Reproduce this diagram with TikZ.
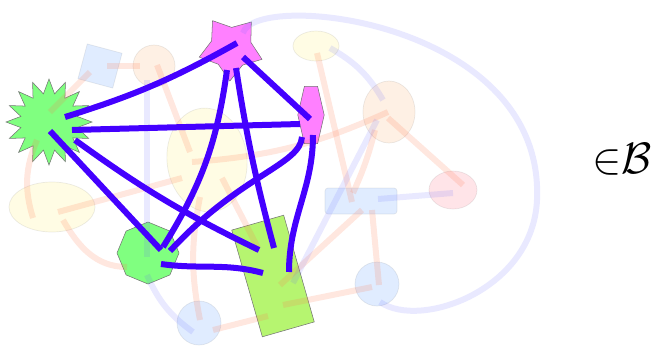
\documentclass[tikz,border=0pt]{standalone}
\usepackage{tikz}
\usetikzlibrary{positioning,shapes.geometric}
\definecolor{edgeblue}{RGB}{68,0,255}
\definecolor{leafgreen}{RGB}{128,255,128}
\definecolor{limegreen}{RGB}{182,245,112}
\definecolor{pinkish}{RGB}{255,128,255}
\definecolor{fadeorange}{RGB}{255,120,80}
\definecolor{fadeblue}{RGB}{100,100,255}
\definecolor{ghostblue}{RGB}{100,160,255}
\definecolor{ghostorange}{RGB}{250,180,120}
\definecolor{ghostyellow}{RGB}{255,240,120}
\definecolor{ghostpink}{RGB}{255,120,140}
\tikzset{
  shapebox/.style={draw=black!55, line width=0.3pt, inner sep=0pt, outer sep=0pt},
  ghost/.style={draw=black, draw opacity=0.08, line width=0.4pt, fill opacity=0.2, inner sep=0pt, outer sep=0pt},
  mainedge/.style={draw=edgeblue, line width=1.2mm},
  redfade/.style={draw=fadeorange, draw opacity=0.18, line width=1.2mm},
  bluefade/.style={draw=fadeblue, draw opacity=0.14, line width=1.2mm}
}

\begin{document}
\begin{tikzpicture}[x=0.2mm, y=0.2mm]
  \useasboundingbox (0,0) rectangle (654,-345);
  \node[shapebox, star, star points=16, star point ratio=1.5, minimum size=17.2mm, fill=leafgreen] (burst) at (49,-122) {};
  \node[shapebox, star, star points=5, star point ratio=1.6, minimum size=13.2mm, shape border rotate=34, fill=pinkish] (star) at (231,-48) {};
  \node[shapebox, regular polygon, regular polygon sides=6, minimum size=13.2mm, xscale=0.4, fill=pinkish] (hexa) at (311,-115) {};
  \node[shapebox, regular polygon, regular polygon sides=8, minimum size=12.4mm, shape border rotate=22.5, fill=leafgreen] (octa) at (148,-253) {};
  \node[shapebox, rectangle, minimum width=10.8mm, minimum height=22.2mm, rotate=16, fill=limegreen] (slab) at (273,-276) {};

  \node[ghost, rectangle, minimum size=7.2mm, rotate=-15, fill=ghostblue] (gsq) at (100,-66) {};
  \node[ghost, circle, minimum size=8.4mm, fill=ghostorange] (goc) at (154,-66) {};
  \node[ghost, ellipse, minimum width=9.2mm, minimum height=6mm, fill=ghostyellow] (gye) at (316,-46) {};
  \node[ghost, ellipse, minimum width=10.4mm, minimum height=12.4mm, fill=ghostorange] (goe) at (389,-112) {};
  \node[ghost, ellipse, minimum width=9.6mm, minimum height=7.6mm, fill=ghostpink] (gpk) at (453,-190) {};
  \node[ghost, rectangle, rounded corners=0.6mm, minimum width=14.4mm, minimum height=5.2mm, fill=ghostblue] (gbr) at (361,-201) {};
  \node[ghost, circle, minimum size=8.8mm, fill=ghostblue] (gbc1) at (377,-284) {};
  \node[ghost, circle, minimum size=8.8mm, fill=ghostblue] (gbc2) at (199,-323) {};
  \node[ghost, ellipse, minimum width=16mm, minimum height=20.8mm, rotate=6, fill=ghostyellow] (gyb) at (207,-160) {};
  \node[ghost, ellipse, minimum width=17.2mm, minimum height=10mm, fill=ghostyellow] (gyl) at (52,-207) {};

  \draw[redfade] ([shift={(7,0)}]gsq.center) -- ([shift={(-14,0)}]goc.center);
  \draw[redfade] ([shift={(-10,-6)}]gsq.center) -- ([shift={(1,10)}]burst.center);
  \draw[redfade] ([shift={(3,1)}]goc.center) -- ([shift={(-17,8)}]gyb.center);
  \draw[redfade] ([shift={(-12,-18)}]burst.center) to[bend right=20] ([shift={(-19,-11)}]gyl.center);
  \draw[redfade] ([shift={(6,-5)}]gyl.center) -- ([shift={(-25,-18)}]gyb.center);
  \draw[redfade] ([shift={(11,-13)}]gyl.center) to[out=-60, in=180] ([shift={(-21,-14)}]octa.center);
  \draw[redfade] ([shift={(-15,-2)}]gyb.center) to[bend right=10] ([shift={(-1,0)}]goe.center);
  \draw[redfade] ([shift={(1,-7)}]gye.center) -- ([shift={(-9,-1)}]gbr.center);
  \draw[redfade] ([shift={(-14,-18)}]goe.center) to[bend left=5] ([shift={(-8,8)}]gbr.center);
  \draw[redfade] ([shift={(-1,-6)}]goe.center) -- ([shift={(10,5)}]gpk.center);
  \draw[redfade] ([shift={(1,-9)}]gbr.center) -- ([shift={(7,-9)}]slab.center);
  \draw[redfade] ([shift={(11,-9)}]gbr.center) -- ([shift={(2,-1)}]gbc1.center);
  \draw[redfade] ([shift={(-5,-3)}]gbc1.center) -- ([shift={(10,-29)}]slab.center);
  \draw[redfade] ([shift={(-5,-40)}]slab.center) -- ([shift={(14,-7)}]gbc2.center);
  \draw[redfade] ([shift={(1,3)}]gbc2.center) to[bend left=11] ([shift={(-7,-37)}]gyb.center);
  \draw[redfade] ([shift={(15,-18)}]gyb.center) -- ([shift={(-15,28)}]slab.center);

  \draw[bluefade] ([shift={(-7,-14)}]goc.center) -- ([shift={(-1,-4)}]octa.center);
  \draw[bluefade] ([shift={(-1,-22)}]octa.center) to[bend right=15] ([shift={(-6,-9)}]gbc2.center);
  \draw[bluefade] ([shift={(14,-2)}]gye.center) to[bend left=15] ([shift={(-6,12)}]goe.center);
  \draw[bluefade] ([shift={(-12,-8)}]goe.center) -- ([shift={(20,-7)}]slab.center);
  \draw[bluefade] ([shift={(17,2)}]gbr.center) -- ([shift={(0,-3)}]gpk.center);
  \draw[bluefade] ([shift={(12,15)}]star.center) .. controls (255,10) and (545,-20) .. (537,-200)
    .. controls (533,-290) and (420,-330) .. ([shift={(3,-18)}]gbc1.center);

  \draw[mainedge] ([shift={(16,5)}]burst.center) to[bend right=6] ([shift={(6,5)}]star.center);
  \draw[mainedge] ([shift={(23,-8)}]burst.center) -- ([shift={(-11,-9)}]hexa.center);
  \draw[mainedge] ([shift={(1,-9)}]burst.center) -- ([shift={(13,3)}]octa.center);
  \draw[mainedge] ([shift={(26,-18)}]burst.center) to[bend right=5] ([shift={(-14,26)}]slab.center);
  \draw[mainedge] ([shift={(12,-9)}]star.center) -- ([shift={(-1,-4)}]hexa.center);
  \draw[mainedge] ([shift={(-4,-22)}]star.center) to[bend left=12] ([shift={(15,6)}]octa.center);
  \draw[mainedge] ([shift={(5,-20)}]star.center) to[bend right=3] ([shift={(1,28)}]slab.center);
  \draw[mainedge] ([shift={(-9,-22)}]hexa.center) .. controls (300,-165) and (240,-175) .. ([shift={(22,2)}]octa.center);
  \draw[mainedge] ([shift={(2,-20)}]hexa.center) to[out=-90, in=90] ([shift={(16,4)}]slab.center);
  \draw[mainedge] ([shift={(13,-11)}]octa.center) to[out=-8, in=165] ([shift={(-10,3)}]slab.center);

  \node[scale=2.5] (memb) at (622,-159) {$\mathord{\in}\mathcal{B}$};
\end{tikzpicture}
\end{document}
